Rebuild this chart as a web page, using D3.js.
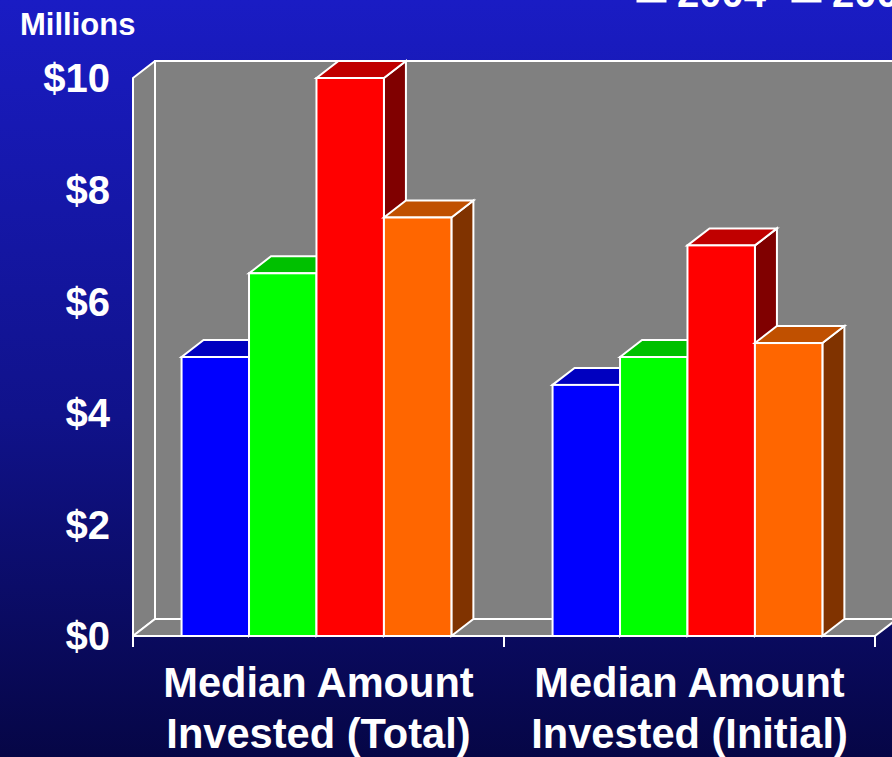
<!DOCTYPE html>
<html>
<head>
<meta charset="utf-8">
<script src="https://cdn.jsdelivr.net/npm/d3@7"></script>
<style>
  html, body { margin: 0; padding: 0; background: #0a0a60; }
  svg { display: block; }
  text { font-family: Arial, "Liberation Sans", sans-serif; font-weight: bold; fill: #fff; }
</style>
</head>
<body>
<svg id="chart" width="892" height="757"></svg>
<script>
// Median amounts invested, in millions of dollars
const categories = ["Median Amount Invested (Total)", "Median Amount Invested (Initial)"];
const categoryLines = [["Median Amount", "Invested (Total)"], ["Median Amount", "Invested (Initial)"]];
const series = ["2004", "2005", "2006", "2007"];
const totalValues = [5, 6.5, 10, 7.5];
const initialValues = [4.5, 5, 7, 5.25];
const tickValues = [0, 2, 4, 6, 8, 10];
const tickLabels = ["$0", "$2", "$4", "$6", "$8", "$10"];
const unitLabel = "Millions";

const frontColors = ["#0000ff", "#00ff00", "#ff0000", "#ff6600"];
const topColors = ["#0000c0", "#00c000", "#c00000", "#c05000"];
const sideColors = ["#000080", "#008000", "#800000", "#803300"];

const data = categories.map((c, i) => ({
  category: c,
  lines: categoryLines[i],
  values: series.map((s, j) => ({ series: s, idx: j, value: [totalValues, initialValues][i][j] }))
}));

const svg = d3.select("#chart");
const W = 892, H = 757;

// Background gradient
const defs = svg.append("defs");
const grad = defs.append("linearGradient").attr("id", "bg").attr("x1", 0).attr("y1", 0).attr("x2", 0).attr("y2", 1);
grad.append("stop").attr("offset", "0%").attr("stop-color", "#1a1cc4");
grad.append("stop").attr("offset", "55%").attr("stop-color", "#10128a");
grad.append("stop").attr("offset", "100%").attr("stop-color", "#060646");
svg.append("rect").attr("width", W).attr("height", H).attr("fill", "url(#bg)");

// Geometry
const left = 133, right = 875;
const depthX = 22, depthY = 17;
const y = d3.scaleLinear().domain([0, 10]).range([636, 78]);
const x0 = d3.scaleBand().domain(categories).range([left, right]).paddingInner(0).paddingOuter(0);
const x1 = d3.scaleBand().domain(series).range([0, x0.bandwidth()]).paddingInner(0).paddingOuter(0.75).align(0.48);

const yTop = y(10), yBase = y(0);
const stroke = "#fff", sw = 2;

// Back wall
svg.append("rect")
  .attr("x", left + depthX).attr("y", yTop - depthY)
  .attr("width", right - left).attr("height", yBase - yTop)
  .attr("fill", "#808080").attr("stroke", stroke).attr("stroke-width", sw);

// Left side wall
svg.append("polygon")
  .attr("points", [[left, yTop], [left + depthX, yTop - depthY], [left + depthX, yBase - depthY], [left, yBase]].join(" "))
  .attr("fill", "#808080").attr("stroke", stroke).attr("stroke-width", sw).attr("stroke-linejoin", "round");

// Floor
svg.append("polygon")
  .attr("points", [[left, yBase], [left + depthX, yBase - depthY], [right + depthX, yBase - depthY], [right, yBase]].join(" "))
  .attr("fill", "#808080").attr("stroke", stroke).attr("stroke-width", sw).attr("stroke-linejoin", "round");

// Bars (front, top, side) drawn left to right
const groups = svg.append("g").selectAll("g").data(data).join("g")
  .attr("transform", d => `translate(${x0(d.category)},0)`);

groups.each(function(d) {
  const g = d3.select(this);
  d.values.forEach(v => {
    const bx = x1(v.series), bw = x1.bandwidth();
    const ty = y(v.value);
    g.append("polygon")
      .attr("points", [[bx + bw, ty], [bx + bw + depthX, ty - depthY], [bx + bw + depthX, yBase - depthY], [bx + bw, yBase]].join(" "))
      .attr("fill", sideColors[v.idx]).attr("stroke", stroke).attr("stroke-width", sw);
    g.append("polygon")
      .attr("points", [[bx, ty], [bx + depthX, ty - depthY], [bx + bw + depthX, ty - depthY], [bx + bw, ty]].join(" "))
      .attr("fill", topColors[v.idx]).attr("stroke", stroke).attr("stroke-width", sw);
    g.append("rect")
      .attr("x", bx).attr("y", ty).attr("width", bw).attr("height", yBase - ty)
      .attr("fill", frontColors[v.idx]).attr("stroke", stroke).attr("stroke-width", sw);
  });
});

// Front axis lines
svg.append("line").attr("x1", left).attr("x2", left).attr("y1", yTop).attr("y2", yBase + 11)
  .attr("stroke", stroke).attr("stroke-width", sw);
svg.append("line").attr("x1", left).attr("x2", right).attr("y1", yBase).attr("y2", yBase)
  .attr("stroke", stroke).attr("stroke-width", sw);

// Category ticks
const xTicks = categories.map(c => x0(c)).concat([right]);
svg.append("g").selectAll("line").data(xTicks).join("line")
  .attr("x1", d => d).attr("x2", d => d).attr("y1", yBase).attr("y2", yBase + 11)
  .attr("stroke", stroke).attr("stroke-width", sw);

// Y tick labels
svg.append("g").selectAll("text").data(tickValues).join("text")
  .attr("x", 110).attr("y", d => y(d)).attr("dy", "0.36em")
  .attr("text-anchor", "end").attr("font-size", 40)
  .text((d, i) => tickLabels[i]);

svg.append("text").attr("x", 20).attr("y", 35).attr("font-size", 31).text(unitLabel);

// Category labels
groups.each(function(d) {
  const t = d3.select(this).append("text")
    .attr("text-anchor", "middle").attr("font-size", 41.6);
  d.lines.forEach((ln, i) => {
    t.append("tspan").attr("x", x0.bandwidth() / 2).attr("y", 697 + i * 51).text(ln);
  });
});

// Legend (sits partly above the top edge)
const legend = svg.append("g").selectAll("g").data(series).join("g")
  .attr("transform", (d, i) => `translate(${638 + i * 155},0)`);
legend.append("rect").attr("x", 0).attr("y", -29).attr("width", 27).attr("height", 30)
  .attr("fill", (d, i) => frontColors[i]).attr("stroke", stroke).attr("stroke-width", 3);
legend.append("text").attr("x", 39).attr("y", 6.5).attr("font-size", 40).text(d => d);
</script>
</body>
</html>
